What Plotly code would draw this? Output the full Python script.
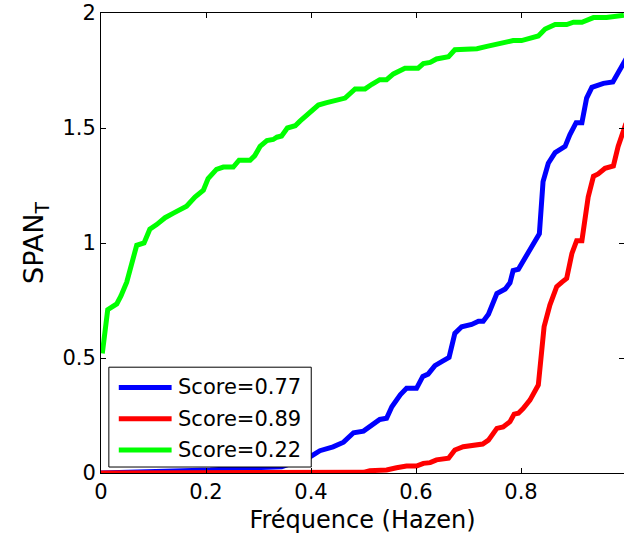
import plotly.graph_objects as go

# Hazen plotting-position frequencies and SPAN_T values for each score
freq_blue = [0.0, 0.10, 0.208, 0.258, 0.322, 0.344, 0.36, 0.38, 0.398, 0.417, 0.442, 0.462,
             0.481, 0.500, 0.516, 0.531, 0.544, 0.554, 0.570, 0.582, 0.601, 0.613,
             0.623, 0.636, 0.649, 0.663, 0.674, 0.687, 0.706, 0.719, 0.728, 0.738,
             0.754, 0.770, 0.779, 0.785, 0.795, 0.804, 0.820, 0.835, 0.842, 0.852,
             0.865, 0.884, 0.893, 0.905, 0.916, 0.925, 0.935, 0.957, 0.975, 0.985,
             0.995, 1.0]
span_blue = [0.0, 0.004, 0.013, 0.02, 0.023, 0.027, 0.04, 0.055, 0.07, 0.097, 0.114, 0.134,
             0.175, 0.182, 0.21, 0.233, 0.238, 0.288, 0.34, 0.368, 0.368, 0.42,
             0.43, 0.467, 0.484, 0.503, 0.607, 0.636, 0.646, 0.66, 0.66, 0.69,
             0.78, 0.80, 0.827, 0.88, 0.886, 0.92, 0.977, 1.04, 1.267, 1.347,
             1.393, 1.42, 1.47, 1.523, 1.523, 1.63, 1.677, 1.694, 1.70, 1.745,
             1.784, 1.80]

freq_red = [0.0, 0.45, 0.500, 0.512, 0.544, 0.563, 0.582, 0.601, 0.614, 0.627, 0.639,
            0.662, 0.674, 0.690, 0.716, 0.727, 0.738, 0.754, 0.766, 0.779, 0.787,
            0.795, 0.804, 0.817, 0.833, 0.838, 0.844, 0.855, 0.868, 0.878, 0.887,
            0.897, 0.906, 0.916, 0.928, 0.938, 0.947, 0.960, 0.976, 0.985, 0.995, 1.0]
span_red = [0.0, 0.0, 0.003, 0.01, 0.013, 0.023, 0.03, 0.03, 0.042, 0.045, 0.057,
            0.064, 0.10, 0.114, 0.119, 0.126, 0.143, 0.194, 0.20, 0.223, 0.256,
            0.26, 0.28, 0.317, 0.383, 0.506, 0.636, 0.73, 0.81, 0.83, 0.846,
            0.955, 1.01, 1.01, 1.20, 1.29, 1.30, 1.325, 1.335, 1.42, 1.49, 1.52]

freq_green = [0.0025, 0.0128, 0.030, 0.038, 0.049, 0.058, 0.068, 0.082, 0.093, 0.106,
              0.122, 0.138, 0.163, 0.179, 0.195, 0.204, 0.220, 0.233, 0.252, 0.263,
              0.284, 0.293, 0.303, 0.316, 0.328, 0.335, 0.344, 0.355, 0.370, 0.379,
              0.389, 0.401, 0.414, 0.430, 0.446, 0.465, 0.484, 0.503, 0.516, 0.531,
              0.544, 0.557, 0.579, 0.604, 0.614, 0.627, 0.639, 0.662, 0.674, 0.697,
              0.716, 0.735, 0.754, 0.773, 0.785, 0.801, 0.817, 0.833, 0.846, 0.865,
              0.887, 0.900, 0.916, 0.938, 0.963, 0.982, 0.996]
span_green = [0.52, 0.71, 0.735, 0.77, 0.83, 0.91, 0.99, 1.00, 1.06, 1.08,
              1.11, 1.13, 1.16, 1.20, 1.23, 1.28, 1.32, 1.33, 1.33, 1.36,
              1.36, 1.38, 1.42, 1.445, 1.45, 1.46, 1.465, 1.50, 1.51, 1.53,
              1.55, 1.57, 1.60, 1.61, 1.62, 1.63, 1.67, 1.67, 1.69, 1.71,
              1.71, 1.735, 1.76, 1.76, 1.78, 1.785, 1.80, 1.81, 1.84, 1.84,
              1.845, 1.855, 1.865, 1.87, 1.88, 1.88, 1.89, 1.90, 1.93, 1.95,
              1.95, 1.96, 1.96, 1.98, 1.98, 1.985, 1.99]

series_names = ["Score=0.77", "Score=0.89", "Score=0.22"]
series_colors = ["#0000FF", "#FF0000", "#00FF00"]

x_ticks = [0, 0.2, 0.4, 0.6, 0.8]
x_tick_text = ["0", "0.2", "0.4", "0.6", "0.8"]
y_ticks = [0, 0.5, 1, 1.5, 2]
y_tick_text = ["0", "0.5", "1", "1.5", "2"]

FONT = "DejaVu Sans"

fig = go.Figure()
for xs, ys, name, color in zip([freq_blue, freq_red, freq_green],
                               [span_blue, span_red, span_green],
                               series_names, series_colors):
    fig.add_trace(go.Scatter(x=xs, y=ys, mode="lines", name=name,
                             line=dict(color=color, width=5),
                             showlegend=False))

# Boxed legend in the lower-left corner of the axes
lx0, lx1 = 0.015, 0.402
ly0, ly1 = 0.013, 0.230
fig.add_shape(type="rect", xref="paper", yref="paper",
              x0=lx0, x1=lx1, y0=ly0, y1=ly1,
              line=dict(color="black", width=1), fillcolor="white", layer="above")
row_y = [ly1 - 0.044, ly1 - 0.112, ly1 - 0.180]
for name, color, ry in zip(series_names, series_colors, row_y):
    fig.add_shape(type="line", xref="paper", yref="paper",
                  x0=lx0 + 0.019, x1=lx0 + 0.12, y0=ry, y1=ry,
                  line=dict(color=color, width=5), layer="above")
    fig.add_annotation(xref="paper", yref="paper", x=lx0 + 0.128, y=ry,
                       text=name, showarrow=False, xanchor="left", yanchor="middle",
                       font=dict(family=FONT, size=21, color="black"))

axis_common = dict(showline=True, linecolor="black", linewidth=1, mirror="ticks",
                   ticks="inside", ticklen=5, tickcolor="black", showgrid=False,
                   zeroline=False, tickfont=dict(family=FONT, size=21, color="black"))

fig.update_layout(
    width=624, height=540,
    margin=dict(l=101, r=0, t=13, b=67),
    paper_bgcolor="white", plot_bgcolor="white",
    xaxis=dict(range=[0, 0.9962], tickvals=x_ticks, ticktext=x_tick_text,
               title=dict(text="Fréquence (Hazen)", font=dict(family=FONT, size=24, color="black"),
                          standoff=7),
               **axis_common),
    yaxis=dict(range=[0, 2], tickvals=y_ticks, ticktext=y_tick_text,
               title=dict(text="SPAN<sub>T</sub>", font=dict(family=FONT, size=27, color="black"),
                          standoff=10),
               **axis_common),
)

fig.write_html("out.html")
